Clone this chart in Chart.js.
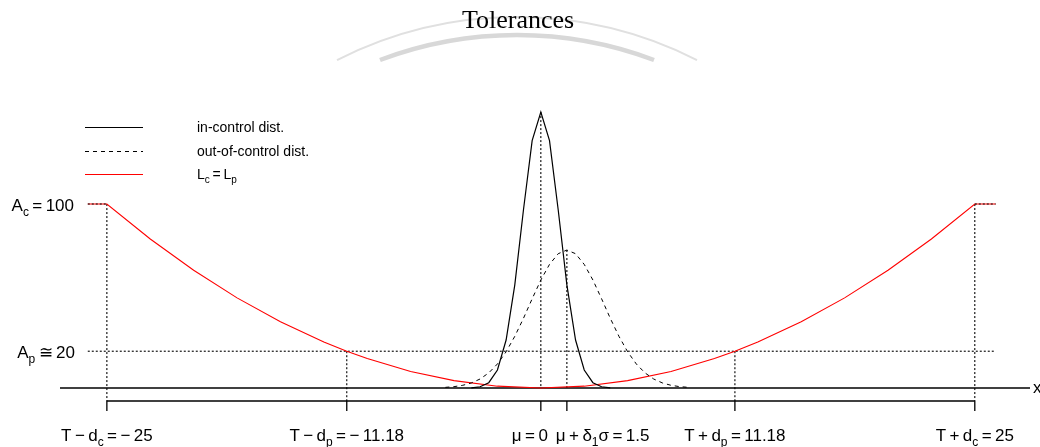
<!DOCTYPE html>
<html><head><meta charset="utf-8">
<script src="https://cdn.jsdelivr.net/npm/chart.js@4"></script>
<style>html,body{margin:0;padding:0;background:#fff;overflow:hidden}</style>
</head><body>
<canvas id="c" width="1040" height="447"></canvas>
<script>
// ---- data ----
const lossX = [-26.1, -25, -22.5, -20, -17.5, -15, -12.5, -11.18, -10, -7.5, -5, -2.5, 0, 2.5, 5, 7.5, 10, 11.18, 12.5, 15, 17.5, 20, 22.5, 25, 26.2];
const lossY = [100, 100, 81, 64, 49, 36, 25, 20, 16, 9, 4, 1, 0, 1, 4, 9, 16, 20, 25, 36, 49, 64, 81, 100, 100];
const inX = [-4, -3.5, -3, -2.5, -2, -1.5, -1, -0.5, 0, 0.5, 1, 1.5, 2, 2.5, 3, 3.5, 4];
const inY = [0.1, 0.7, 2.9, 9.8, 26.1, 56.1, 96.9, 134.5, 150, 134.5, 96.9, 56.1, 26.1, 9.8, 2.9, 0.7, 0.1];
const outX = [-5.5, -5, -4.5, -4, -3.5, -3, -2.5, -2, -1.5, -1, -0.5, 0, 0.5, 1, 1.5, 2, 2.5, 3, 3.5, 4, 4.5, 5, 5.5, 6, 6.5, 7, 7.5, 8, 8.5];
const outY = [0.36, 0.74, 1.47, 2.76, 4.9, 8.22, 13.07, 19.7, 28.1, 37.9, 48.5, 58.7, 67.2, 73.0, 75, 73.0, 67.2, 58.7, 48.5, 37.9, 28.1, 19.7, 13.07, 8.22, 4.9, 2.76, 1.47, 0.74, 0.36];
const tolX = [-25, -11.18, 0, 1.5, 11.18, 25];          // tolerance / mean positions
const tolTop = [100, 20, 150, 75, 20, 100];             // height each dotted guide reaches
const levelAc = 100, levelAp = 20;                       // A_c and A_p
const xLabels = [
  [["T\u2009\u2212\u2009d"], ["c", 1], ["\u2009=\u2009\u2212\u200925"]],
  [["T\u2009\u2212\u2009d"], ["p", 1], ["\u2009=\u2009\u2212\u200911.18"]],
  [["\u03bc\u2009=\u20090"]],
  [["\u03bc\u2009+\u2009\u03b4"], ["1", 1], ["\u03c3\u2009=\u20091.5"]],
  [["T\u2009+\u2009d"], ["p", 1], ["\u2009=\u200911.18"]],
  [["T\u2009+\u2009d"], ["c", 1], ["\u2009=\u200925"]]
];
const legendLabels = [
  [["in-control dist."]],
  [["out-of-control dist."]],
  [["L"], ["c", 1], ["\u2009=\u2009L"], ["p", 1]]
];
const titleText = "Tolerances";

// ---- layout constants ----
const X_MIN = -27.7, X_MAX = 28.18, Y_MIN = -28.26, Y_MAX = 178.3;
const BAR_Y = -7.07, TICK_Y = -12.5;
const SANS = '"Liberation Sans", Arial, sans-serif';

const pts = (xs, ys) => xs.map((x, i) => ({x, y: ys[i]}));
const seg = (x1, y1, x2, y2) => [{x: x1, y: y1}, {x: x2, y: y2}];
const base = {showLine: true, pointRadius: 0, borderWidth: 1, tension: 0, fill: false};
const dotted = Object.assign({}, base, {borderColor: '#000', borderWidth: 1.1, borderDash: [2, 2], order: 2});
const solid = Object.assign({}, base, {borderColor: '#000', borderWidth: 1.3, order: 2});

const datasets = [];
datasets.push(Object.assign({}, base, {data: pts(lossX, lossY), borderColor: '#ff0000', borderWidth: 1.1, order: 1}));
datasets.push(Object.assign({}, base, {data: pts(inX, inY), borderColor: '#000', borderWidth: 1.2, order: 0}));
datasets.push(Object.assign({}, base, {data: pts(outX, outY), borderColor: '#000', borderDash: [4, 4], order: 0}));
// axis at zero
datasets.push(Object.assign({}, solid, {data: seg(X_MIN, 0, X_MAX, 0)}));
// tolerance bar and ticks
datasets.push(Object.assign({}, solid, {data: seg(tolX[0], BAR_Y, tolX[tolX.length - 1], BAR_Y)}));
tolX.forEach(x => datasets.push(Object.assign({}, solid, {data: seg(x, BAR_Y, x, TICK_Y)})));
// dotted guides
tolX.forEach((x, i) => {
  const bottom = (i === 2 || i === 3) ? 0 : BAR_Y;
  datasets.push(Object.assign({}, dotted, {data: seg(x, tolTop[i], x, bottom)}));
});
datasets.push(Object.assign({}, dotted, {data: seg(lossX[0], levelAp, lossX[lossX.length - 1], levelAp)}));
datasets.push(Object.assign({}, dotted, {data: seg(lossX[0], levelAc, tolX[0], levelAc), order: -1}));
datasets.push(Object.assign({}, dotted, {data: seg(tolX[5], levelAc, lossX[lossX.length - 1], levelAc), order: -1}));

function rich(ctx, parts, x, y, align, size) {
  const main = size + 'px ' + SANS;
  const sub = Math.round(size * 0.72) + 'px ' + SANS;
  let w = 0;
  parts.forEach(p => { ctx.font = p[1] ? sub : main; w += ctx.measureText(p[0]).width; });
  let cx = align === 'right' ? x - w : align === 'center' ? x - w / 2 : x;
  ctx.textAlign = 'left'; ctx.textBaseline = 'alphabetic';
  parts.forEach(p => {
    ctx.font = p[1] ? sub : main;
    ctx.fillText(p[0], cx, y + (p[1] ? size * 0.28 : 0));
    cx += ctx.measureText(p[0]).width;
  });
}

const decor = {
  id: 'decor',
  beforeDraw(chart) {
    const ctx = chart.ctx;
    ctx.save();
    ctx.strokeStyle = '#e0e0e0';
    ctx.lineWidth = 2;
    ctx.beginPath();
    ctx.arc(517, 415, 398, Math.atan2(-355, -180), Math.atan2(-355, 180));
    ctx.stroke();
    ctx.strokeStyle = '#d8d8d8';
    ctx.lineWidth = 4.5;
    ctx.beginPath();
    ctx.arc(517, 423, 388, Math.atan2(-363, -137), Math.atan2(-363, 137));
    ctx.stroke();
    ctx.restore();
  },
  afterDraw(chart) {
    const ctx = chart.ctx, xs = chart.scales.x, ys = chart.scales.y;
    ctx.save();
    ctx.fillStyle = '#000';
    // title
    ctx.font = '26px "Liberation Serif", "Times New Roman", serif';
    ctx.textAlign = 'center'; ctx.textBaseline = 'middle';
    ctx.fillText(titleText, 518, 21);
    // y level labels
    rich(ctx, [["A"], ["c", 1], ["\u2009=\u2009" + levelAc]], 74, ys.getPixelForValue(levelAc) + 7, 'right', 17);
    rich(ctx, [["A"], ["p", 1], ["\u2009\u2245\u2009" + levelAp]], 75, ys.getPixelForValue(levelAp) + 7, 'right', 17);
    // x labels
    const by = 441;
    xLabels.forEach((parts, i) => {
      const px = xs.getPixelForValue(tolX[i]);
      if (i === 2) rich(ctx, parts, px + 7, by, 'right', 17);
      else if (i === 3) rich(ctx, parts, px - 11, by, 'left', 17);
      else rich(ctx, parts, px, by, 'center', 17);
    });
    // axis name
    ctx.font = '17px ' + SANS;
    ctx.textAlign = 'left'; ctx.textBaseline = 'middle';
    ctx.fillText('x', 1033, ys.getPixelForValue(0));
    // legend
    const ly = [127, 151, 174];
    const lstyle = [['#000', []], ['#000', [4, 4]], ['#ff0000', []]];
    ly.forEach((y, i) => {
      ctx.strokeStyle = lstyle[i][0];
      ctx.setLineDash(lstyle[i][1]);
      ctx.lineWidth = 1;
      ctx.beginPath(); ctx.moveTo(85, y + 0.5); ctx.lineTo(143, y + 0.5); ctx.stroke();
      rich(ctx, legendLabels[i], 197, y + 5, 'left', 14);
    });
    ctx.restore();
  }
};

new Chart(document.getElementById('c'), {
  type: 'scatter',
  data: {datasets},
  options: {
    responsive: false,
    animation: false,
    devicePixelRatio: 1,
    layout: {padding: {left: 60, right: 10, top: 60, bottom: 7}},
    plugins: {legend: {display: false}, tooltip: {enabled: false}, title: {display: false}},
    scales: {
      x: {type: 'linear', min: X_MIN, max: X_MAX, display: false},
      y: {type: 'linear', min: Y_MIN, max: Y_MAX, display: false}
    }
  },
  plugins: [decor]
});
</script>
</body></html>
